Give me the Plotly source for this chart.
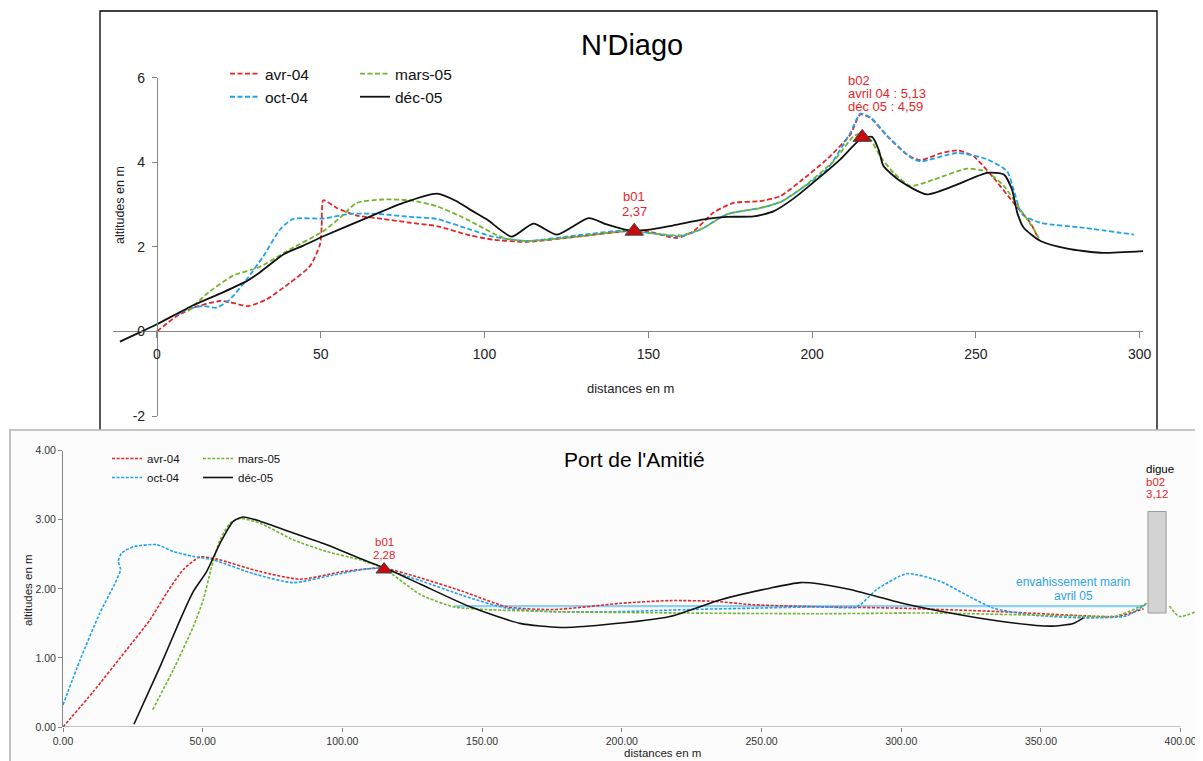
import plotly.graph_objects as go

OFF = 8                      # page body margin of the viewer
W, H = 1203 - OFF, 761 - OFF

# ---------------- N'Diago (top panel) ----------------
nd_avr_x = [0, 6, 11.1, 19.2, 22.3, 27.9, 33.5, 40.6, 46.7, 49.8, 50.3, 50.8, 54.9, 61, 69.1, 77.3, 85.4, 95.6,
            102.7, 112.9, 128.2, 143.4, 149.6, 158.7, 163.8, 169.9, 176, 184.2, 190.3, 196.4, 204.5, 211.7, 214.7,
            217.8, 222.9, 229, 233, 239.2, 244.3, 249.3, 255.4, 261.5, 266.6, 268.7]
nd_avr_y = [0, 0.36, 0.56, 0.72, 0.69, 0.60, 0.76, 1.15, 1.54, 2.06, 2.49, 3.10, 2.92, 2.74, 2.66, 2.57, 2.49, 2.27,
            2.17, 2.12, 2.24, 2.37, 2.37, 2.21, 2.37, 2.81, 3.04, 3.08, 3.20, 3.55, 4.07, 4.66, 5.13,
            5.05, 4.62, 4.18, 4.05, 4.21, 4.28, 4.14, 3.63, 3.04, 2.57, 2.25]

nd_oct_x = [6, 9, 14.2, 18.2, 22.3, 27.4, 32.5, 37.6, 41.6, 50.8, 59, 67.1, 77.3, 85.4, 95.6, 102.7, 112.9, 128.2,
            143.4, 159.7, 165.9, 174, 184.2, 190.3, 196.4, 204.5, 211.7, 214.7, 218, 223, 230, 233, 244.3, 253.4,
            259.5, 261.5, 264.1, 269.7, 282.9, 298.2]
nd_oct_y = [0.38, 0.52, 0.60, 0.56, 0.76, 1.23, 1.78, 2.41, 2.66, 2.67, 2.78, 2.78, 2.71, 2.66, 2.41, 2.24, 2.14, 2.27,
            2.39, 2.25, 2.41, 2.77, 2.92, 3.06, 3.36, 3.83, 4.70, 5.15, 5.05, 4.62, 4.12, 4.02, 4.22, 4.07,
            3.79, 3.36, 2.77, 2.57, 2.45, 2.29]

nd_mar_x = [9.5, 16.2, 23.3, 31.5, 40.6, 50.8, 55.9, 61, 69.1, 77.3, 85.4, 92.5, 95.6, 105.8, 112.9, 128.2, 143.4,
            159.7, 165.9, 174, 184.2, 190.3, 196.4, 206.6, 212.7, 214.7, 217.8, 220.8, 224.9, 230, 237.1, 247.3,
            253.4, 258.5, 263.6, 267.7, 269.2]
nd_mar_y = [0.48, 0.95, 1.32, 1.53, 1.94, 2.37, 2.69, 3.04, 3.12, 3.10, 2.96, 2.73, 2.61, 2.21, 2.14, 2.24, 2.37,
            2.27, 2.41, 2.77, 2.92, 3.06, 3.36, 4.03, 4.62, 4.67, 4.54, 4.14, 3.75, 3.44, 3.59, 3.85,
            3.77, 3.44, 2.88, 2.41, 2.21]

nd_dec_x = [-11.3, -5.4, 0, 11.1, 20.3, 27.4, 31.5, 38.6, 44.7, 50.8, 63, 75.2, 85.4, 91.5, 95.6, 100.7, 108.3,
            114.9, 122.1, 131.8, 137.3, 143.4, 149.6, 157.7, 167.9, 174, 182.1, 188.2, 194.3, 202.5, 208.6, 214.7,
            218.3, 220.3, 221.8, 227, 235, 243.2, 253.4, 258.5, 261, 262.6, 264.6, 269.7, 277.9, 288, 301]
nd_dec_y = [-0.24, -0.03, 0.17, 0.62, 0.93, 1.19, 1.40, 1.82, 2.03, 2.25, 2.65, 3.04, 3.26, 3.08, 2.88, 2.65, 2.24,
            2.55, 2.29, 2.68, 2.53, 2.40, 2.40, 2.51, 2.66, 2.71, 2.72, 2.84, 3.14, 3.66, 4.07, 4.54,
            4.60, 4.30, 3.91, 3.55, 3.24, 3.44, 3.75, 3.71, 3.36, 2.81, 2.45, 2.14, 1.96, 1.86, 1.90]

nd_xticks = [0, 50, 100, 150, 200, 250, 300]
nd_yticks = [-2, 0, 2, 4, 6]
nd_ytext = ["-2", "0", "2", "4", "6"]
nd_b01 = (145.7, 2.37)
nd_b02 = (215.3, 4.59)

# ---------------- Port de l'Amitié (bottom panel) ----------------
pa_avr_x = [0, 10.8, 22.8, 31.1, 37.1, 43.1, 49, 55, 70.5, 84.8, 100.3, 114.6, 127.8, 143.3, 158.8, 175.5, 199.4,
            217.2, 232.7, 247.1, 270.9, 299.6, 335.4, 365.2, 377.1, 386.7]
pa_avr_y = [0, 0.51, 1.12, 1.55, 1.94, 2.28, 2.46, 2.43, 2.25, 2.14, 2.25, 2.30, 2.16, 1.96, 1.74, 1.70, 1.79,
            1.83, 1.82, 1.77, 1.74, 1.72, 1.67, 1.61, 1.60, 1.71]

pa_oct_x = [0, 6.1, 13.2, 18.6, 20.6, 19.8, 21, 25.2, 33.5, 39.5, 46.6, 53.8, 68.1, 82.4, 96.7, 112.3, 127.8, 143.3,
            158.8, 175.5, 199.4, 223.2, 247.1, 270.9, 284.1, 291.2, 302, 313.9, 323.4, 333, 347.3, 365.2, 380.7, 387.9]
pa_oct_y = [0.32, 0.97, 1.65, 2.08, 2.28, 2.40, 2.52, 2.61, 2.64, 2.54, 2.47, 2.42, 2.22, 2.09, 2.20, 2.30, 2.12, 1.90,
            1.72, 1.67, 1.67, 1.70, 1.72, 1.74, 1.74, 1.99, 2.22, 2.11, 1.91, 1.72, 1.62, 1.58, 1.61, 1.79]

pa_mar_x = [32.1, 39.5, 46.6, 50.2, 53.2, 56.2, 59.8, 63.3, 70.5, 82.4, 94.4, 106.3, 114.6, 127.8, 139.7, 151.6,
            175.5, 223.2, 270.9, 311.5, 359.2, 377.1, 387.9]
pa_mar_y = [0.25, 0.83, 1.45, 1.84, 2.32, 2.71, 2.95, 3.02, 2.95, 2.71, 2.54, 2.42, 2.30, 1.92, 1.74, 1.70,
            1.67, 1.65, 1.64, 1.65, 1.61, 1.61, 1.79]
pa_mar2_x = [396, 399.5, 407.5]
pa_mar2_y = [1.75, 1.60, 1.70]

pa_dec_x = [25.4, 34.7, 41.9, 46.6, 51.4, 56.2, 61, 64.5, 70.5, 82.4, 94.4, 106.3, 115.9, 127.8, 145.7, 163.6, 177.9,
            193.4, 217.2, 235.1, 253, 263.8, 270.9, 281.7, 299.6, 317.5, 335.4, 353.3, 361.6, 365.2]
pa_dec_y = [0.04, 0.87, 1.55, 1.96, 2.25, 2.66, 2.98, 3.04, 2.98, 2.81, 2.64, 2.44, 2.29, 2.07, 1.74, 1.50, 1.44,
            1.48, 1.60, 1.84, 2.01, 2.09, 2.07, 1.99, 1.80, 1.65, 1.53, 1.46, 1.50, 1.58]

pa_xticks = [0, 50, 100, 150, 200, 250, 300, 350, 400]
pa_yticks = [0, 1, 2, 3, 4]
pa_b01 = (114.9, 2.28)
pa_digue = (388.3, 394.8, 1.65, 3.12)   # x0, x1, bottom, top
pa_marin = (140, 387, 1.75)              # x0, x1, level

RED, BLUE, GREEN, BLACK = "#e3262a", "#1ea2ee", "#72b52c", "#111111"
LBLRED = "#e8262a"
FONT = "Liberation Sans, Arial, sans-serif"


def X(p):
    return (p - OFF) / W


def Y(p):
    return 1 - (p - OFF) / H


# domains (page pixels) and ranges
top_xd = [X(113), X(1143)]
top_yd = [Y(416), Y(77.7)]
top_xr = [-13.4, 301]
top_yr = [-2, 6]
bot_xd = [X(63), X(1203)]
bot_yd = [Y(727), Y(450.7)]
bot_xr = [0, 408]
bot_yr = [0, 4]

top_xpos = top_yd[0] + (0 - top_yr[0]) / (top_yr[1] - top_yr[0]) * (top_yd[1] - top_yd[0])
top_ypos = top_xd[0] + (0 - top_xr[0]) / (top_xr[1] - top_xr[0]) * (top_xd[1] - top_xd[0])

fig = go.Figure()

top_dash = "5px,2.5px"
bot_dash = "3px,1.6px"

series_top = [("avr-04", nd_avr_x, nd_avr_y, RED, top_dash, "legend"),
              ("oct-04", nd_oct_x, nd_oct_y, BLUE, top_dash, "legend"),
              ("mars-05", nd_mar_x, nd_mar_y, GREEN, top_dash, "legend2"),
              ("déc-05", nd_dec_x, nd_dec_y, BLACK, "solid", "legend2")]
for name, xs, ys, col, dash, lg in series_top:
    fig.add_trace(go.Scatter(x=xs, y=ys, mode="lines", name=name, legend=lg,
                             line=dict(color=col, width=1.8, dash=dash, shape="spline", smoothing=0.6),
                             xaxis="x", yaxis="y"))

fig.add_trace(go.Scatter(x=[nd_b01[0], nd_b02[0]], y=[nd_b01[1], nd_b02[1]], mode="markers", showlegend=False,
                         marker=dict(symbol="triangle-up", size=16, color="#c8080c",
                                     line=dict(color="#444", width=1)),
                         xaxis="x", yaxis="y", cliponaxis=False))

series_bot = [("avr-04", pa_avr_x, pa_avr_y, RED, bot_dash, "legend3"),
              ("oct-04", pa_oct_x, pa_oct_y, BLUE, bot_dash, "legend3"),
              ("mars-05", pa_mar_x, pa_mar_y, GREEN, bot_dash, "legend4"),
              ("déc-05", pa_dec_x, pa_dec_y, BLACK, "solid", "legend4")]
for name, xs, ys, col, dash, lg in series_bot:
    fig.add_trace(go.Scatter(x=xs, y=ys, mode="lines", name=name, legend=lg,
                             line=dict(color=col, width=1.6, dash=dash, shape="spline", smoothing=0.6),
                             xaxis="x2", yaxis="y2"))
fig.add_trace(go.Scatter(x=pa_mar2_x, y=pa_mar2_y, mode="lines", showlegend=False,
                         line=dict(color=GREEN, width=1.6, dash=bot_dash, shape="spline", smoothing=0.6),
                         xaxis="x2", yaxis="y2"))
fig.add_trace(go.Scatter(x=[pa_b01[0]], y=[pa_b01[1]], mode="markers", showlegend=False,
                         marker=dict(symbol="triangle-up", size=14, color="#c8080c",
                                     line=dict(color="#444", width=1)),
                         xaxis="x2", yaxis="y2", cliponaxis=False))

shapes = [
    # top frame
    dict(type="path", xref="paper", yref="paper", layer="below",
         path=f"M {X(100)},{Y(432)} L {X(100)},{Y(11)} L {X(1157)},{Y(11)} L {X(1157)},{Y(432)}",
         line=dict(color="#000", width=1.3)),
    # bottom panel frame
    dict(type="rect", xref="paper", yref="paper", layer="below",
         x0=X(10), y0=Y(430), x1=X(1215), y1=Y(780),
         fillcolor="#fcfcfc", line=dict(color="#b4b4b4", width=1.6)),
    # bottom x axis line (0 -> 400)
    dict(type="line", xref="x2", yref="y2", x0=pa_xticks[0], x1=pa_xticks[-1], y0=0, y1=0,
         line=dict(color="#8a8a8a", width=1.2)),
    # sea invasion level
    dict(type="line", xref="x2", yref="y2", x0=pa_marin[0], x1=pa_marin[1], y0=pa_marin[2], y1=pa_marin[2],
         line=dict(color="#8fd0f5", width=2.2), layer="below"),
    # digue
    dict(type="rect", xref="x2", yref="y2", x0=pa_digue[0], x1=pa_digue[1], y0=pa_digue[2], y1=pa_digue[3],
         fillcolor="#d3d3d3", line=dict(color="#9a9a9a", width=1)),
]

ann = []


def txt(x, y, s, size, color="#000", xref="paper", yref="paper", xanchor="center", yanchor="middle",
        yshift=0, textangle=0):
    ann.append(dict(x=x, y=y, text=s, showarrow=False, xref=xref, yref=yref, xanchor=xanchor,
                    yanchor=yanchor, yshift=yshift, textangle=textangle,
                    font=dict(family=FONT, size=size, color=color)))


# titles and axis titles
txt(X(632), Y(45), "N'Diago", 29)
txt(X(634), Y(459), "Port de l'Amitié", 21)
txt(X(630), Y(388), "distances en m", 13, "#222")
txt(X(120), Y(205), "altitudes en m", 12.5, "#222", textangle=-90)
txt(X(662), Y(753), "distances en m", 11.5, "#222")
txt(X(28), Y(590), "altitudes en m", 11.5, "#222", textangle=-90)

# top labels
txt(nd_b01[0], nd_b01[1], "b01", 13, LBLRED, "x", "y", yshift=35)
txt(nd_b01[0], nd_b01[1], "2,37", 13, LBLRED, "x", "y", yshift=20)
for i, s in enumerate(["b02", "avril 04 : 5,13", "déc 05 : 4,59"]):
    txt(nd_b02[0] - 5, nd_b02[1], s, 13, LBLRED, "x", "y", xanchor="left", yshift=57 - 13 * i)

# bottom labels
txt(pa_b01[0], pa_b01[1], "b01", 11.5, LBLRED, "x2", "y2", yshift=28)
txt(pa_b01[0], pa_b01[1], "2,28", 11.5, LBLRED, "x2", "y2", yshift=15)
for i, (s, c) in enumerate([("digue", "#000"), ("b02", LBLRED), ("3,12", LBLRED)]):
    txt(pa_digue[0] - 1.5, pa_digue[3], s, 11.5, c, "x2", "y2", xanchor="left", yshift=42 - 12.5 * i)
txt((pa_marin[0] + pa_marin[1]) / 2 + 98, pa_marin[2], "envahissement marin", 12, "#2ea3e8", "x2", "y2",
    yshift=24)
txt((pa_marin[0] + pa_marin[1]) / 2 + 98, pa_marin[2], "avril 05", 12, "#2ea3e8", "x2", "y2", yshift=10)

axis_common = dict(showgrid=False, zeroline=False, ticks="outside", linecolor="#858585", tickcolor="#858585",
                   fixedrange=True, automargin=False)

leg_common = dict(xanchor="left", yanchor="top", bgcolor="rgba(0,0,0,0)", borderwidth=0, tracegroupgap=0,
                  itemwidth=30)

fig.update_layout(
    width=W, height=H, autosize=False, margin=dict(l=0, r=0, t=0, b=0, pad=0, autoexpand=False),
    paper_bgcolor="white", plot_bgcolor="rgba(0,0,0,0)",
    font=dict(family=FONT, color="#222"),
    xaxis=dict(domain=top_xd, range=top_xr, anchor="free", position=top_xpos, showline=True,
               tickvals=nd_xticks, ticklen=6, tickfont=dict(size=14, color="#222"), ticklabelstandoff=4,
               **axis_common),
    yaxis=dict(domain=top_yd, range=top_yr, anchor="free", position=top_ypos, showline=True,
               tickvals=nd_yticks, ticktext=nd_ytext, ticklen=5, tickfont=dict(size=14, color="#222"),
               ticklabelstandoff=4, **axis_common),
    xaxis2=dict(domain=bot_xd, range=bot_xr, anchor="y2", showline=False, tickvals=pa_xticks,
                tickformat=".2f", ticklen=4, tickfont=dict(size=10.5, color="#333"), **axis_common),
    yaxis2=dict(domain=bot_yd, range=bot_yr, anchor="x2", showline=True, tickvals=pa_yticks,
                tickformat=".2f", ticklen=4, tickfont=dict(size=10.5, color="#333"), **axis_common),
    legend=dict(x=X(225), y=Y(57), font=dict(size=15.5, color="#111"), **leg_common),
    legend2=dict(x=X(355), y=Y(57), font=dict(size=15.5, color="#111"), **leg_common),
    legend3=dict(x=X(107), y=Y(444), font=dict(size=11.5, color="#111"), **leg_common),
    legend4=dict(x=X(198), y=Y(444), font=dict(size=11.5, color="#111"), **leg_common),
    shapes=shapes, annotations=ann, showlegend=True,
)

fig.write_html("out.html")
